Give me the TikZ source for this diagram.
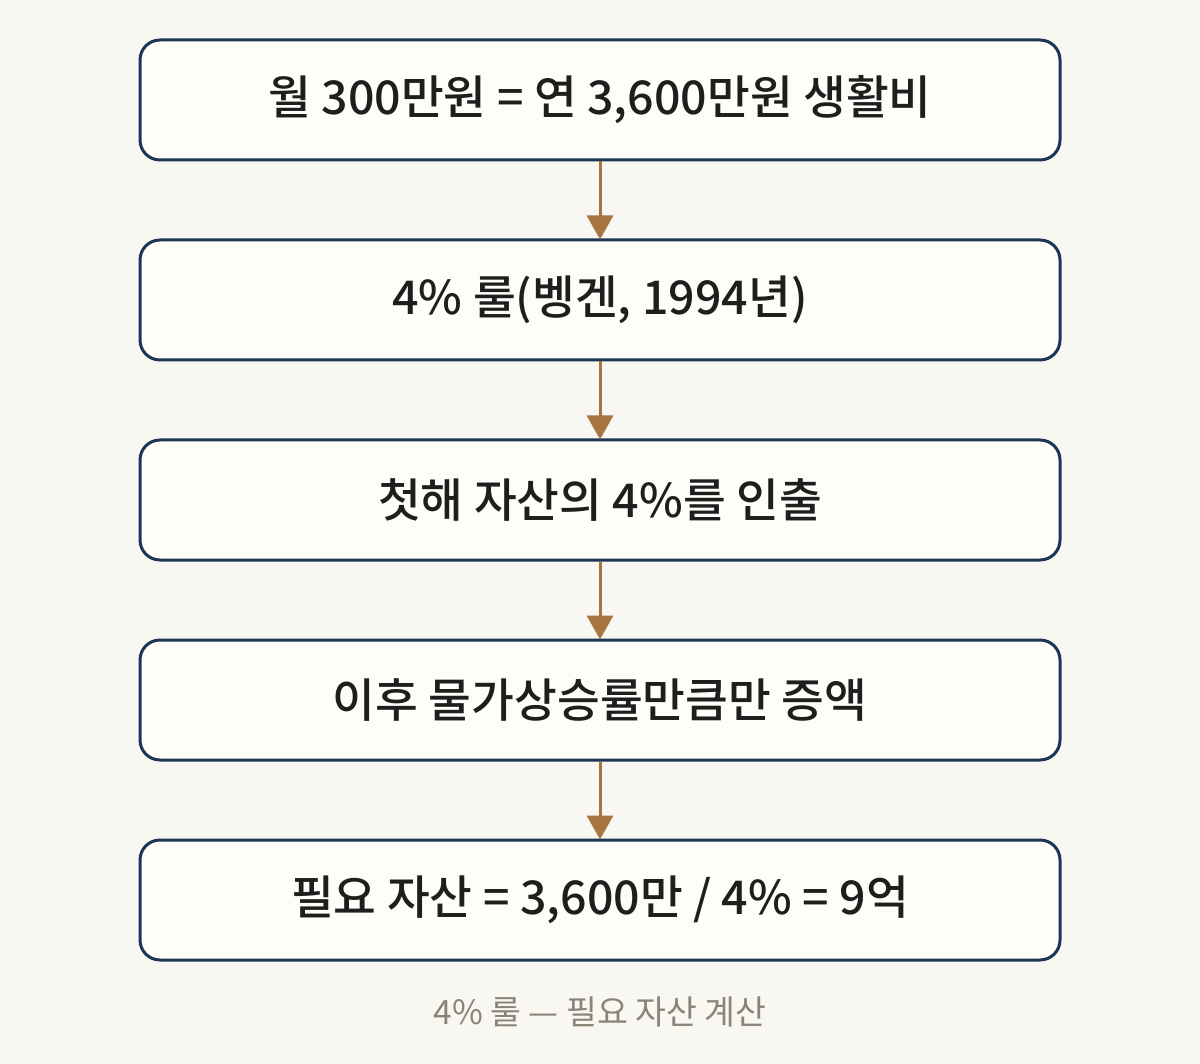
\documentclass[tikz,border=0pt]{standalone}
\usepackage{fontspec}
\setmainfont{Noto Sans CJK KR}
\newfontfamily\krbold{Noto Sans CJK KR Medium}
\usetikzlibrary{arrows.meta}
\definecolor{bgc}{HTML}{F9F7F1}
\definecolor{boxfill}{HTML}{FFFDF8}
\definecolor{boxline}{HTML}{1C3558}
\definecolor{arrowc}{HTML}{A87440}
\definecolor{textc}{HTML}{1E1E1E}
\definecolor{capc}{HTML}{8A8478}
\begin{document}
\begin{tikzpicture}[x=1pt,y=-1pt,
  stepbox/.style={draw=boxline, fill=boxfill, line width=3pt, rounded corners=20pt,
    minimum width=920pt, minimum height=120pt, inner sep=0pt, text=textc,
    font=\krbold\fontsize{46.5}{52}\selectfont},
  flow/.style={draw=arrowc, line width=3pt, -{Triangle[width=26pt,length=24pt]}, shorten >=-1pt}]
\fill[bgc] (0,0) rectangle (1200,1064);
\useasboundingbox (0,0) rectangle (1200,1064);
\node[stepbox] (b1) at (600,100) {월 300만원 = 연 3,600만원 생활비};
\node[stepbox] (b2) at (600,300) {4\% 룰(벵겐, 1994년)};
\node[stepbox] (b3) at (600,500) {첫해 자산의 4\%를 인출};
\node[stepbox] (b4) at (600,700) {이후 물가상승률만큼만 증액};
\node[stepbox] (b5) at (600,900) {필요 자산 = 3,600만 / 4\% = 9억};
\draw[flow] (b1) -- (b2);
\draw[flow] (b2) -- (b3);
\draw[flow] (b3) -- (b4);
\draw[flow] (b4) -- (b5);
\node[text=capc, font=\fontsize{33.5}{38}\selectfont] (cap) at (600,1012) {4\% 룰 — 필요 자산 계산};
\end{tikzpicture}
\end{document}
